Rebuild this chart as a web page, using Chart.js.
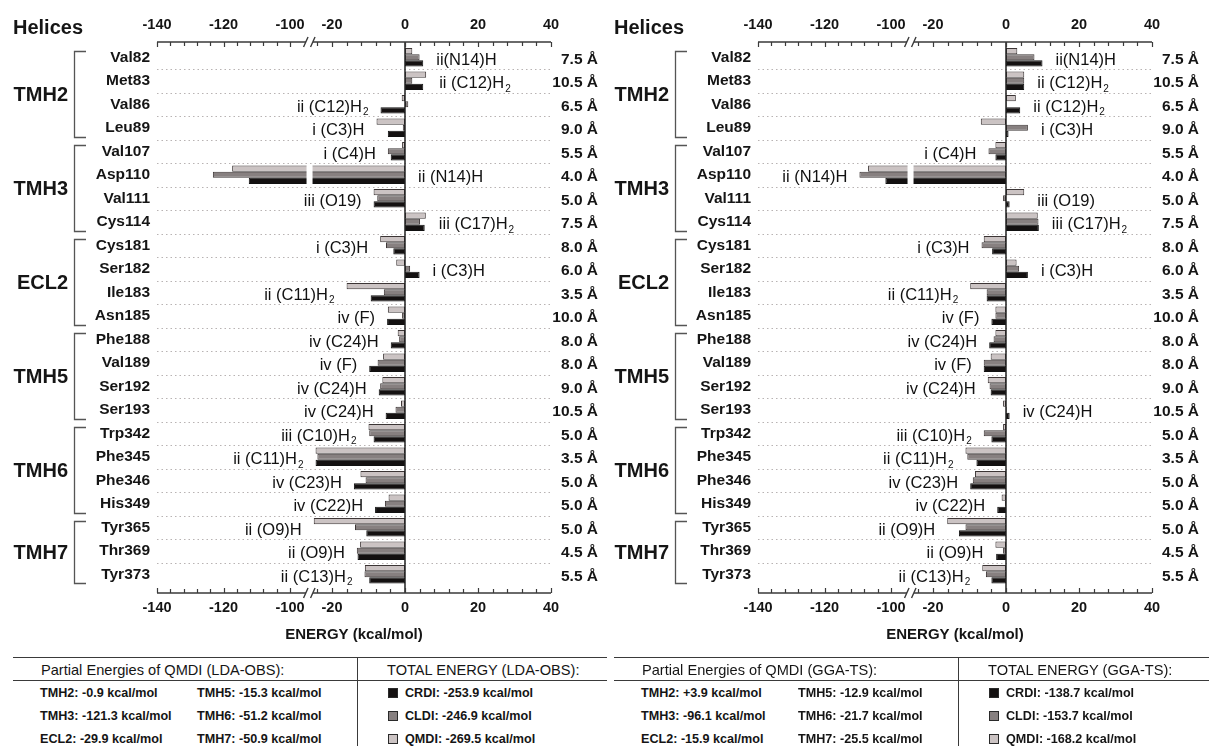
<!DOCTYPE html>
<html>
<head>
<meta charset="utf-8">
<script src="https://cdn.jsdelivr.net/npm/chart.js@4.4.1/dist/chart.umd.min.js"></script>
<style>
  html, body { margin: 0; padding: 0; background: #fff; }
  body { width: 1209px; height: 746px; overflow: hidden; position: relative;
         font-family: 'Liberation Sans', Arial, Helvetica, sans-serif; color: #151515; }
  canvas { position: absolute; top: 0; }
  .t { position: absolute; white-space: nowrap; line-height: 18px; }
</style>
</head>
<body>
<canvas id="cL" width="604" height="650" style="left:0px"></canvas>
<canvas id="cR" width="608" height="650" style="left:601px"></canvas>
<script>
// ---------------- DATA ----------------
const residues = ['Val82','Met83','Val86','Leu89','Val107','Asp110','Val111','Cys114',
  'Cys181','Ser182','Ile183','Asn185','Phe188','Val189','Ser192','Ser193',
  'Trp342','Phe345','Phe346','His349','Tyr365','Thr369','Tyr373'];
const distances = ['7.5 Å','10.5 Å','6.5 Å','9.0 Å','5.5 Å','4.0 Å','5.0 Å','7.5 Å',
  '8.0 Å','6.0 Å','3.5 Å','10.0 Å','8.0 Å','8.0 Å','9.0 Å','10.5 Å',
  '5.0 Å','3.5 Å','5.0 Å','5.0 Å','5.0 Å','4.5 Å','5.5 Å'];
const helixNames = ['TMH2','TMH3','ECL2','TMH5','TMH6','TMH7'];
const helixSizes = [4, 4, 4, 4, 4, 3];
const interactions = ['ii(N14)H','ii (C12)H_2','ii (C12)H_2','i (C3)H','i (C4)H','ii (N14)H','iii (O19)','iii (C17)H_2',
  'i (C3)H','i (C3)H','ii (C11)H_2','iv (F)','iv (C24)H','iv (F)','iv (C24)H','iv (C24)H',
  'iii (C10)H_2','ii (C11)H_2','iv (C23)H','iv (C22)H','ii (O9)H','ii (O9)H','ii (C13)H_2'];

// LDA-OBS (left panel)
const qmdiLDA = [2.0, 5.8, -0.9, -7.8, -0.8, -117.4, -8.6, 5.7, -6.8, -2.4, -16.0, -4.7,
  -2.0, -6.0, -6.2, -1.1, -10.0, -24.5, -12.2, -4.5, -25.0, -12.3, -11.0];
const cldiLDA = [4.0, 2.0, 0.9, -0.6, -4.7, -123.2, -7.6, 4.1, -5.2, 1.4, -5.8, -0.8,
  -1.6, -7.5, -6.8, -2.6, -9.8, -24.0, -10.8, -5.5, -13.7, -13.2, -11.1];
const crdiLDA = [5.0, 5.0, -6.7, -4.7, -3.9, -112.4, -8.6, 5.4, -3.2, 4.0, -9.4, -4.9,
  -3.9, -9.8, -7.2, -5.3, -8.6, -24.5, -14.0, -8.2, -10.6, -13.0, -9.8];
const sideLDA = ['R','R','L','L','L','R','L','R','L','R','L','L','L','L','L','L','L','L','L','L','L','L','L'];

// GGA-TS (right panel)
const qmdiGGA = [3.1, 5.0, 2.7, -6.9, -2.9, -106.9, 5.0, 8.7, -6.1, 2.9, -9.8, -2.9,
  -2.9, -4.2, -5.0, -0.8, -0.8, -11.1, -8.5, -1.2, -16.1, -2.9, -6.5];
const cldiGGA = [7.8, 5.0, 0.2, 6.0, -4.8, -109.5, -0.8, 8.9, -6.7, 3.6, -5.3, -2.9,
  -3.4, -6.1, -4.5, 0.2, -6.1, -10.6, -9.1, -0.3, -11.1, -0.8, -5.5];
const crdiGGA = [10.0, 5.0, 3.9, 0.7, -2.9, -101.7, 1.0, 9.0, -3.8, 6.0, -5.3, -4.0,
  -4.6, -6.1, -4.2, 1.0, -4.0, -8.1, -9.8, -2.4, -12.9, -2.7, -4.0];
const sideGGA = ['R','R','R','R','L','L','R','R','L','R','L','L','L','L','L','R','L','L','L','L','L','L','L'];

const majorTicks = [-140, -120, -100, -20, 0, 20, 40];
const tickStep = 4;

const partialLDA = [-0.9, -121.3, -29.9, -15.3, -51.2, -50.9];
const partialGGA = [3.9, -96.1, -15.9, -12.9, -21.7, -25.5];
const totalNames = ['CRDI', 'CLDI', 'QMDI'];
const totalLDA = [-253.9, -246.9, -269.5];
const totalGGA = [-138.7, -153.7, -168.2];

// ---------------- STYLE / SCALE HELPERS ----------------
const FONT = "'Liberation Sans', Arial, Helvetica, sans-serif";
const COLORS = { QMDI: '#cbc3c3', CLDI: '#878080', CRDI: '#141111' };
// broken axis: -140..-100 section is compressed and joined to -26..40 section
const BREAK_V = -26.15;
function toV(x) {
  if (x >= -26) return x;
  if (x <= -95) return -31.5 + (x + 100) * 0.911;
  return BREAK_V;
}
function fmt(v) { return (v > 0 ? '+' : '') + v.toFixed(1); }

function drawRich(ctx, s, x, y, align, size, weight, color) {
  const parts = s.split('_2');
  const hasSub = parts.length > 1;
  const subSize = Math.round(size * 0.58);
  ctx.font = `${weight} ${size}px ${FONT}`;
  const wMain = ctx.measureText(parts[0]).width;
  ctx.font = `${weight} ${subSize}px ${FONT}`;
  const wSub = hasSub ? ctx.measureText('2').width + 1 : 0;
  const total = wMain + wSub;
  const sx = align === 'right' ? x - total : (align === 'center' ? x - total / 2 : x);
  ctx.fillStyle = color; ctx.textBaseline = 'middle'; ctx.textAlign = 'left';
  ctx.font = `${weight} ${size}px ${FONT}`;
  ctx.fillText(parts[0], sx, y);
  if (hasSub) {
    ctx.font = `${weight} ${subSize}px ${FONT}`;
    ctx.fillText('2', sx + wMain + 1, y + size * 0.33);
  }
}

function makeDecor(q, c, r, side) {
  return {
    id: 'decor',
    beforeDatasetsDraw(chart) {
      const { ctx, chartArea: a, scales: { y } } = chart;
      ctx.save();
      ctx.strokeStyle = '#b8b3b3'; ctx.lineWidth = 1; ctx.setLineDash([1.5, 3]);
      for (let i = 0; i < residues.length - 1; i++) {
        const yy = Math.round((y.getPixelForValue(i) + y.getPixelForValue(i + 1)) / 2) + 0.5;
        ctx.beginPath(); ctx.moveTo(a.left, yy); ctx.lineTo(a.right, yy); ctx.stroke();
      }
      ctx.restore();
    },
    afterDatasetsDraw(chart) {
      const { ctx, chartArea: a, scales: { x, y } } = chart;
      const n = residues.length;
      const rowH = (a.bottom - a.top) / n;
      const bx = x.getPixelForValue(BREAK_V);
      const x0 = x.getPixelForValue(0);
      const axTop = a.top - 3.5, axBot = a.bottom + 7;
      ctx.save();
      // white gap through bars crossing the axis break
      for (let i = 0; i < n; i++) {
        if (Math.min(q[i], c[i], r[i]) < -27) {
          const cy = y.getPixelForValue(i);
          ctx.fillStyle = '#fff';
          ctx.fillRect(bx - 3, cy - rowH / 2 + 1, 6, rowH - 2);
        }
      }
      // zero line
      ctx.strokeStyle = '#222'; ctx.lineWidth = 1.5;
      ctx.beginPath(); ctx.moveTo(x0, axTop); ctx.lineTo(x0, axBot); ctx.stroke();
      // axes lines with break
      ctx.strokeStyle = '#3a3a3a'; ctx.lineWidth = 1.4;
      [axTop, axBot].forEach(yy => {
        ctx.beginPath();
        ctx.moveTo(a.left, yy); ctx.lineTo(bx - 3.5, yy);
        ctx.moveTo(bx + 3.5, yy); ctx.lineTo(a.right, yy);
        ctx.stroke();
        ctx.beginPath();
        ctx.moveTo(bx - 6, yy + 5); ctx.lineTo(bx - 1.5, yy - 5);
        ctx.moveTo(bx + 1, yy + 5); ctx.lineTo(bx + 5.5, yy - 5);
        ctx.stroke();
      });
      // ticks
      const ticks = [];
      for (let t = -140; t <= -100; t += tickStep) ticks.push(t);
      for (let t = -24; t <= 40; t += tickStep) ticks.push(t);
      ctx.lineWidth = 1.2;
      ticks.forEach(t => {
        const px = Math.round(x.getPixelForValue(toV(t))) + 0.5;
        const len = majorTicks.includes(t) ? 5 : 4;
        ctx.beginPath();
        ctx.moveTo(px, axTop); ctx.lineTo(px, axTop + len);
        ctx.moveTo(px, axBot); ctx.lineTo(px, axBot - len);
        ctx.stroke();
      });
      // tick labels
      majorTicks.forEach(t => {
        const px = x.getPixelForValue(toV(t));
        drawRich(ctx, String(t), px, axTop - 17, 'center', 14.5, 'bold', '#151515');
        drawRich(ctx, String(t), px, axBot + 15, 'center', 14.5, 'bold', '#151515');
      });
      // axis title
      drawRich(ctx, 'ENERGY (kcal/mol)', (a.left + a.right) / 2, axBot + 42, 'center', 15, 'bold', '#151515');
      // Helices header
      drawRich(ctx, 'Helices', 13, 28, 'left', 20, 'bold', '#151515');
      // helix groups with brackets
      let start = 0;
      ctx.strokeStyle = '#555'; ctx.lineWidth = 1.3;
      helixNames.forEach((h, gi) => {
        const end = start + helixSizes[gi] - 1;
        const top = y.getPixelForValue(start) - rowH / 2;
        const bot = y.getPixelForValue(end) + rowH / 2;
        const t0 = Math.round(top + 5) + 0.5, b0 = Math.round(bot - 3) + 0.5;
        ctx.beginPath();
        ctx.moveTo(86, t0); ctx.lineTo(74.5, t0); ctx.lineTo(74.5, b0); ctx.lineTo(86, b0);
        ctx.stroke();
        drawRich(ctx, h, 68, (top + bot) / 2 + 2.5, 'right', 20, 'bold', '#151515');
        start = end + 1;
      });
      // interaction annotations and distances
      for (let i = 0; i < n; i++) {
        const cy = y.getPixelForValue(i);
        const ends = [q[i], c[i], r[i], 0].map(v => x.getPixelForValue(toV(v)));
        if (side[i] === 'L') {
          drawRich(ctx, interactions[i], Math.min(...ends) - 12, cy + 3, 'right', 16.5, 'normal', '#111');
        } else {
          drawRich(ctx, interactions[i], Math.max(...ends) + 13, cy + 3, 'left', 16.5, 'normal', '#111');
        }
        drawRich(ctx, distances[i], 598, cy + 2, 'right', 15.5, 'bold', '#151515');
      }
      ctx.restore();
    }
  };
}

function makeChart(id, q, c, r, side, padRight) {
  return new Chart(document.getElementById(id).getContext('2d'), {
    type: 'bar',
    data: {
      labels: residues,
      datasets: [
        { label: 'QMDI', data: q.map(toV), backgroundColor: COLORS.QMDI, borderColor: '#3c3535', borderWidth: 1, borderSkipped: false },
        { label: 'CLDI', data: c.map(toV), backgroundColor: COLORS.CLDI, borderColor: '#3c3535', borderWidth: 1, borderSkipped: false },
        { label: 'CRDI', data: r.map(toV), backgroundColor: COLORS.CRDI, borderColor: '#111', borderWidth: 1, borderSkipped: false }
      ]
    },
    options: {
      indexAxis: 'y', responsive: false, animation: false, devicePixelRatio: 1,
      layout: { padding: { left: 0, right: padRight, top: 45.5, bottom: 64 } },
      datasets: { bar: { categoryPercentage: 0.78, barPercentage: 1.0 } },
      plugins: { legend: { display: false }, tooltip: { enabled: false } },
      scales: {
        x: { type: 'linear', min: toV(-140), max: 40, display: false },
        y: {
          type: 'category', display: true,
          grid: { display: false, drawTicks: false }, border: { display: false },
          ticks: { autoSkip: false, padding: 7, color: '#151515', font: { family: FONT, size: 15.5, weight: 'bold' } },
          afterFit(s) { s.width = 157; }
        }
      }
    },
    plugins: [makeDecor(q, c, r, side)]
  });
}

makeChart('cL', qmdiLDA, cldiLDA, crdiLDA, sideLDA, 53);
makeChart('cR', qmdiGGA, cldiGGA, crdiGGA, sideGGA, 57);

// ---------------- TABLES ----------------
function addDiv(style, text, cls) {
  const d = document.createElement('div');
  if (cls) d.className = cls;
  d.style.cssText += style;
  if (text !== undefined) d.textContent = text;
  document.body.appendChild(d);
  return d;
}
function buildTable(off, method, partial, totals, width) {
  addDiv(`position:absolute;left:${off + 13}px;top:657px;width:${width}px;border-top:1.5px solid #3a3a3a;`);
  addDiv(`position:absolute;left:${off + 13}px;top:680px;width:${width}px;border-top:1.3px solid #3a3a3a;`);
  addDiv(`position:absolute;left:${off + 357}px;top:657px;height:89px;border-left:1.5px solid #3a3a3a;`);
  addDiv(`left:${off + 41}px;top:${670 - 9}px;font-size:14.6px;`, `Partial Energies of QMDI (${method}):`, 't');
  addDiv(`left:${off + 387}px;top:${670 - 9}px;font-size:14.6px;`, `TOTAL ENERGY (${method}):`, 't');
  const rowsY = [693, 716, 739];
  for (let k = 0; k < 3; k++) {
    addDiv(`left:${off + 40}px;top:${rowsY[k] - 9}px;font-size:12.6px;font-weight:bold;`,
      `${helixNames[k]}: ${fmt(partial[k])} kcal/mol`, 't');
    addDiv(`left:${off + 197}px;top:${rowsY[k] - 9}px;font-size:12.6px;font-weight:bold;`,
      `${helixNames[k + 3]}: ${fmt(partial[k + 3])} kcal/mol`, 't');
    const nm = totalNames[k];
    addDiv(`position:absolute;left:${off + 388}px;top:${rowsY[k] - 5}px;width:8px;height:8px;background:${COLORS[nm]};border:1px solid #2a2a2a;`);
    addDiv(`left:${off + 405}px;top:${rowsY[k] - 9}px;font-size:12.6px;font-weight:bold;`,
      `${nm}: ${fmt(totals[k])} kcal/mol`, 't');
  }
}
buildTable(0, 'LDA-OBS', partialLDA, totalLDA, 594);
buildTable(601, 'GGA-TS', partialGGA, totalGGA, 595);
</script>
</body>
</html>
